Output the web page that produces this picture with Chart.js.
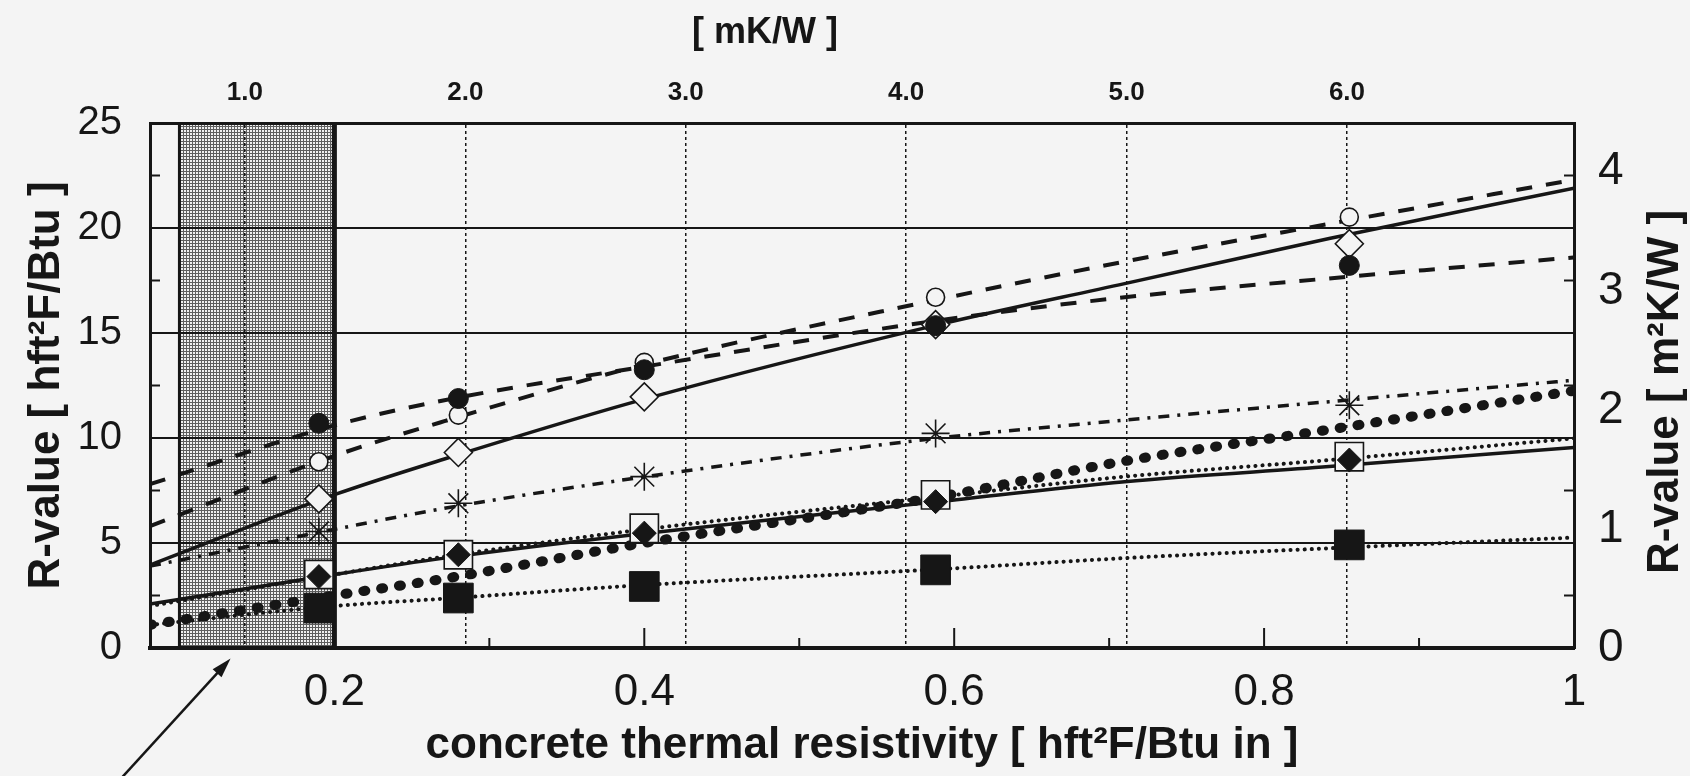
<!DOCTYPE html>
<html>
<head>
<meta charset="utf-8">
<script src="https://cdn.jsdelivr.net/npm/chart.js@4.4.1/dist/chart.umd.min.js"></script>
<style>
  html, body { margin: 0; padding: 0; background: #f4f4f4; }
  #wrap { width: 1690px; height: 776px; }
</style>
</head>
<body>
<div id="wrap"><canvas id="chart" width="1690" height="776"></canvas></div>
<script>
// --- data (x = concrete resistivity, y = R-value hft2F/Btu) ---
const markerX = [0.19, 0.28, 0.40, 0.588, 0.855];
const openCircle    = [8.87, 11.09, 13.6, 16.7, 20.52];
const filledCircle  = [10.7, 11.88, 13.25, 15.35, 18.22];
const openDiamond   = [7.1, 9.31, 11.96, 15.4, 19.25];
const asterisk      = [5.55, 6.89, 8.16, 10.22, 11.56];
const openSquare    = [3.5, 4.44, 5.70, 7.29, 9.11];
const filledDiamond = [3.4, 4.44, 5.47, 6.97, 8.95];
const filledSquare  = [1.9, 2.38, 2.93, 3.72, 4.91];

// fitted curves
const fitX = [0.081, 0.2, 0.271, 0.4, 0.59, 0.71, 0.842, 1.0];
const openCircleFit    = [5.8, 9.15, 10.8, 13.5, 16.6, 18.4, 20.2, 22.3];
const filledCircleFit  = [7.8, 10.6, 11.8, 13.4, 15.6, 16.7, 17.6, 18.6];
const openDiamondFit   = [3.95, 7.3, 9.0, 11.85, 15.4, 17.35, 19.5, 21.9];
const asteriskFit      = [3.9, 5.65, 6.65, 8.15, 10.0, 10.85, 11.73, 12.75];
const heavyDotFit      = [1.1, 2.5, 3.3, 5.0, 7.2, 8.9, 10.4, 12.25];
const openSquareFit    = [2.0, 3.5, 4.35, 5.65, 7.2, 8.16, 8.95, 9.98];
const filledDiamondFit = [2.09, 3.5, 4.28, 5.45, 6.97, 7.92, 8.64, 9.55];
const filledSquareFit  = [1.1, 2.0, 2.35, 3.0, 3.75, 4.28, 4.75, 5.26];

// axes
const xTicks = [0.2, 0.4, 0.6, 0.8, 1.0];
const xTickLabels = ['0.2', '0.4', '0.6', '0.8', '1'];
const xMinorTicks = [0.3, 0.5, 0.7, 0.9];
const xMidTicks = [0.4, 0.6, 0.8];
const topTicks = [1, 2, 3, 4, 5, 6];
const topTickLabels = ['1.0', '2.0', '3.0', '4.0', '5.0', '6.0'];
const yTicks = [0, 5, 10, 15, 20, 25];
const yMinorTicks = [2.5, 7.5, 12.5, 17.5, 22.5];
const y2Ticks = [0, 1, 2, 3, 4];
const shadeRange = [0.1, 0.2];
const arrowTail = [0.06, -6.4];
const arrowHead = [0.133, -0.5];

const xTitle = 'concrete thermal resistivity [ hft\u00B2F/Btu in ]';
const yTitle = 'R-value [ hft\u00B2F/Btu ]';
const y2Title = 'R-value [ m\u00B2K/W ]';
const topTitle = '[ mK/W ]';

const xMin = 0.081, xMax = 1.0;
const mkwFactor = 7.03;      // top scale as drawn in the figure
const siFactor = 0.1764;     // hft2F/Btu -> m2K/W

const BG = '#f4f4f4', INK = '#161616';
const FONT = "'Liberation Sans', Arial, Helvetica, sans-serif";

const pts = (xs, ys) => xs.map((x, i) => ({ x: x, y: ys[i] }));

const markerSet = (ys, style, r, fill, bw) => ({
  data: pts(markerX, ys), showLine: false, pointStyle: style,
  pointRadius: r, pointHoverRadius: r, pointBackgroundColor: fill,
  pointBorderColor: INK, pointBorderWidth: bw
});
const fitSet = (ys, width, dash, cap) => ({
  data: pts(fitX, ys), showLine: true, pointRadius: 0, pointHoverRadius: 0,
  borderColor: INK, borderWidth: width, borderDash: dash, borderCapStyle: cap || 'butt',
  cubicInterpolationMode: 'monotone', fill: false
});

// halftone-ish fill for the shaded band
let shadePattern = null;
const getPattern = (ctx) => {
  if (shadePattern) return shadePattern;
  const c = document.createElement('canvas');
  c.width = 3; c.height = 3;
  const g = c.getContext('2d');
  g.fillStyle = '#5e5e5e'; g.fillRect(0, 0, 3, 3);
  g.fillStyle = '#f0f0f0'; g.fillRect(1, 1, 2, 2);
  shadePattern = ctx.createPattern(c, 'repeat');
  return shadePattern;
};

const decor = {
  id: 'decor',
  beforeDraw(chart) {
    const { ctx, chartArea: a, scales: { x } } = chart;
    const x0 = x.getPixelForValue(shadeRange[0]), x1 = x.getPixelForValue(shadeRange[1]);
    ctx.save();
    ctx.fillStyle = getPattern(ctx);
    ctx.fillRect(x0, a.top, x1 - x0, a.bottom - a.top);
    ctx.strokeStyle = INK;
    ctx.lineWidth = 3;
    ctx.beginPath(); ctx.moveTo(x0, a.top); ctx.lineTo(x0, a.bottom); ctx.stroke();
    ctx.lineWidth = 5;
    ctx.beginPath(); ctx.moveTo(x1, a.top); ctx.lineTo(x1, a.bottom); ctx.stroke();
    ctx.restore();
  },
  afterDraw(chart) {
    const { ctx, chartArea: a, scales: { x, y } } = chart;
    ctx.save();
    ctx.strokeStyle = INK;
    ctx.fillStyle = INK;
    // inward minor ticks
    ctx.lineWidth = 2;
    yMinorTicks.forEach(v => {
      const py = y.getPixelForValue(v);
      ctx.beginPath(); ctx.moveTo(a.left, py); ctx.lineTo(a.left + 10, py); ctx.stroke();
      ctx.beginPath(); ctx.moveTo(a.right, py); ctx.lineTo(a.right - 10, py); ctx.stroke();
    });
    xMinorTicks.forEach(v => {
      const px = x.getPixelForValue(v);
      ctx.beginPath(); ctx.moveTo(px, a.bottom); ctx.lineTo(px, a.bottom - 10); ctx.stroke();
    });
    xMidTicks.forEach(v => {
      const px = x.getPixelForValue(v);
      ctx.beginPath(); ctx.moveTo(px, a.bottom); ctx.lineTo(px, a.bottom - 20); ctx.stroke();
    });
    // arrow pointing at the shaded band
    const tx = x.getPixelForValue(arrowTail[0]), ty = y.getPixelForValue(arrowTail[1]);
    const hx = x.getPixelForValue(arrowHead[0]), hy = y.getPixelForValue(arrowHead[1]);
    const ang = Math.atan2(hy - ty, hx - tx);
    ctx.lineWidth = 2.5;
    ctx.beginPath(); ctx.moveTo(tx, ty);
    ctx.lineTo(hx - 14 * Math.cos(ang), hy - 14 * Math.sin(ang)); ctx.stroke();
    ctx.beginPath();
    ctx.moveTo(hx, hy);
    ctx.lineTo(hx - 20 * Math.cos(ang) + 6 * Math.sin(ang), hy - 20 * Math.sin(ang) - 6 * Math.cos(ang));
    ctx.lineTo(hx - 20 * Math.cos(ang) - 6 * Math.sin(ang), hy - 20 * Math.sin(ang) + 6 * Math.cos(ang));
    ctx.closePath(); ctx.fill();
    // right axis title reads bottom-to-top, and the top unit label
    ctx.textAlign = 'center';
    ctx.textBaseline = 'middle';
    ctx.font = 'bold 44px ' + FONT;
    ctx.translate(1666, 392);
    ctx.rotate(-Math.PI / 2);
    ctx.fillText(y2Title, 0, 0);
    ctx.setTransform(1, 0, 0, 1, 0, 0);
    ctx.font = 'bold 36px ' + FONT;
    ctx.fillText(topTitle, 765, 33);
    ctx.restore();
  }
};

const chart = new Chart(document.getElementById('chart'), {
  type: 'scatter',
  data: {
    datasets: [
      markerSet(filledDiamond, 'rectRot', 12, INK, 1),
      markerSet(filledCircle, 'circle', 10, INK, 1),
      markerSet(openDiamond, 'rectRot', 14, BG, 1.6),
      markerSet(filledSquare, 'rect', 21, INK, 1),
      markerSet(asterisk, 'star', 14, INK, 1.6),
      markerSet(openSquare, 'rect', 20, BG, 1.6),
      markerSet(openCircle, 'circle', 9, BG, 1.6),
      fitSet(openCircleFit, 4, [16, 14]),
      fitSet(filledCircleFit, 4, [16, 14]),
      fitSet(openDiamondFit, 3.5, []),
      fitSet(asteriskFit, 3.5, [11, 8, 3, 8]),
      fitSet(heavyDotFit, 10, [2, 16], 'round'),
      fitSet(openSquareFit, 4, [0.1, 7], 'round'),
      fitSet(filledDiamondFit, 3.5, []),
      fitSet(filledSquareFit, 4, [0.1, 7], 'round')
    ]
  },
  options: {
    responsive: false,
    animation: false,
    devicePixelRatio: 1,
    events: [],
    layout: { padding: 0 },
    plugins: { legend: { display: false }, tooltip: { enabled: false } },
    scales: {
      x: {
        type: 'linear', position: 'bottom', min: xMin, max: xMax,
        afterBuildTicks: s => { s.ticks = xTicks.map(v => ({ value: v })); },
        afterFit: s => { s.height = 128; },
        ticks: { callback: (v, i) => xTickLabels[i], font: { family: FONT, size: 44 }, color: INK, padding: 18, maxRotation: 0, autoSkip: false },
        grid: { display: false, drawTicks: false },
        border: { display: true, width: 4, color: INK },
        title: { display: true, text: xTitle, color: INK, font: { family: FONT, size: 44, weight: 'bold' }, padding: { top: 0, bottom: 4 } }
      },
      x2: {
        type: 'linear', axis: 'x', position: 'top', min: xMin * mkwFactor, max: xMax * mkwFactor,
        afterBuildTicks: s => { s.ticks = topTicks.map(v => ({ value: v })); },
        afterFit: s => { s.height = 123; },
        ticks: { callback: (v, i) => topTickLabels[i], font: { family: FONT, size: 26, weight: 'bold' }, color: INK, padding: 15, maxRotation: 0, autoSkip: false },
        grid: { display: true, drawTicks: false, color: INK, lineWidth: 1.5 },
        border: { display: true, width: 3, color: INK, dash: [3, 3] }
      },
      y: {
        type: 'linear', position: 'left', min: 0, max: 25,
        afterBuildTicks: s => { s.ticks = yTicks.map(v => ({ value: v })); },
        afterFit: s => { s.width = 150; },
        ticks: { font: { family: FONT, size: 40 }, color: INK, padding: 28 },
        grid: { display: true, drawTicks: false, color: INK, lineWidth: 2 },
        border: { display: true, width: 3, color: INK },
        title: { display: true, text: yTitle, color: INK, font: { family: FONT, size: 44, weight: 'bold' }, padding: { top: 20, bottom: 0 } }
      },
      y2: {
        type: 'linear', position: 'right', min: 0, max: 25 * siFactor,
        afterBuildTicks: s => { s.ticks = y2Ticks.map(v => ({ value: v })); },
        afterFit: s => { s.width = 116; },
        ticks: { font: { family: FONT, size: 46 }, color: INK, padding: 24 },
        grid: { display: false, drawTicks: false },
        border: { display: true, width: 3, color: INK }
      }
    }
  },
  plugins: [decor]
});
</script>
</body>
</html>
